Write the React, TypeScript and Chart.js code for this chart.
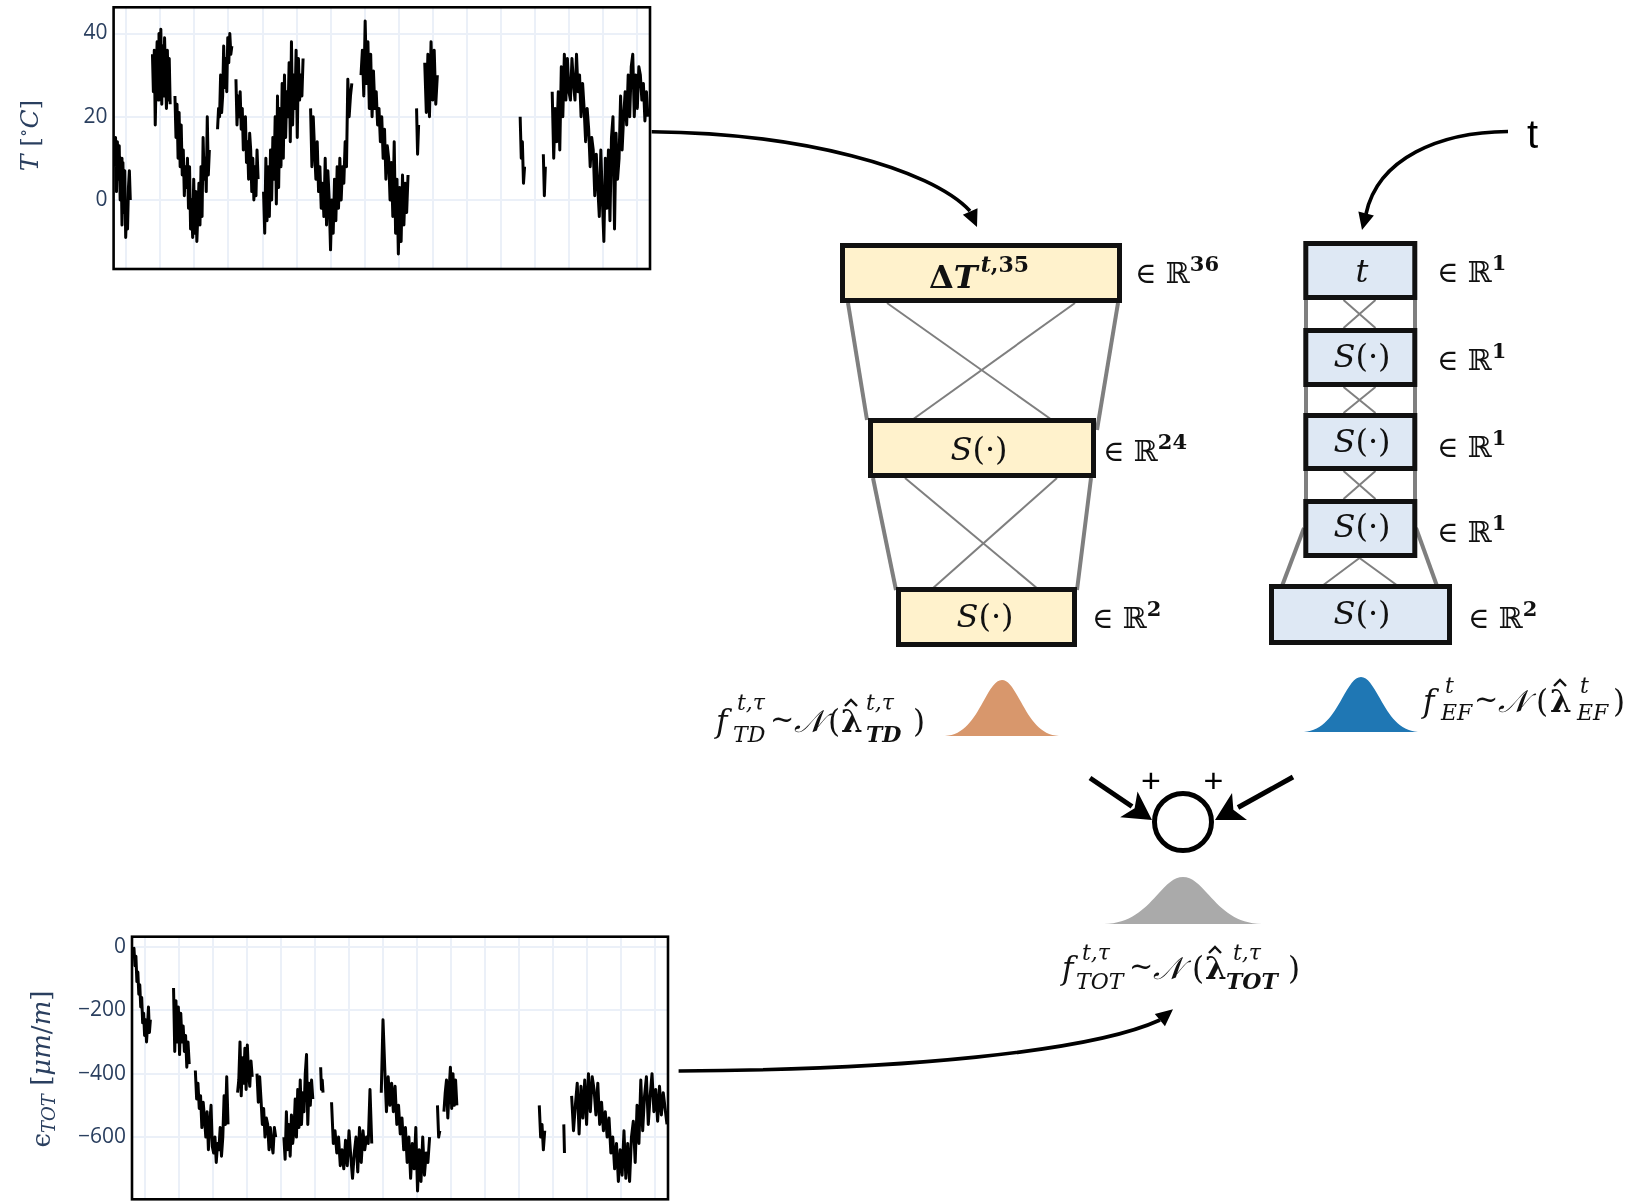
import React, { useEffect, useRef } from "react";
import { Chart, registerables } from "chart.js";

Chart.register(...registerables);

// ---------- shared x grid (vertical gridlines) ----------
const X_GRID = [0, 1, 2, 3, 4, 5, 6, 7, 8, 9, 10, 11, 12, 13, 14, 15];
const X_RANGE = [-0.37, 15.37];

// ---------- top chart: temperature T [°C] ----------
const TEMP_TICKS = [0, 20, 40];
const TEMP_RANGE = [-16.6, 46.3];
const TEMP_SEG_START = [-0.34, 0.77, 1.43, 2.68, 3.22, 4.03, 5.41, 6.89, 8.52, 8.76, 11.56, 12.24, 12.5];
const TEMP_SEG_END = [0.12, 1.29, 2.44, 3.1, 3.87, 5.19, 6.62, 8.27, 8.58, 9.13, 11.69, 12.3, 15.31];
const TEMP_SEG_VALUES: number[][] = [
  [8, 15, 2, 14, 5, 13, 0, 10, -6, 9, -3, 7, -9, -2, -7, 3, 7, 0],
  [35, 26, 36, 18, 30, 38, 24, 40, 28, 41, 23, 37, 25, 39, 30, 22, 36, 24, 34, 23],
  [25, 15, 23, 10, 21, 8, 18, 6, 12, 1, 8, 3, 10, -2, 8, -7, 0, -9, 5, -8, 2, -10, -3, 4, -6, 8, -4, 15, 5, 10, 2, 20, 6, 12],
  [17, 22, 20, 30, 21, 25, 37, 27, 34, 26, 39, 33, 40, 35, 37],
  [29, 18, 25, 20, 26, 17, 22, 12, 18, 20, 9, 14, 5, 16, 12, 2, 10, 0, 8, 1, 12, 5],
  [2, -8, 10, -5, 8, -4, 12, 0, 15, 5, 20, -1, 25, 3, 22, 8, 28, 10, 30, 15, 26, 20, 33, 14, 38, 18, 30, 22, 36, 15, 34, 24, 30, 25, 34],
  [22, 8, 20, 12, 5, 14, 2, 8, -2, 4, -4, 10, -6, 7, 0, -12, 0, -8, 5, -5, 8, -2, 10, 0, 8, 4, 14, 8, 29, 20, 25, 28],
  [30, 36, 25, 43, 28, 38, 22, 35, 20, 31, 22, 26, 18, 22, 14, 20, 10, 17, 5, 13, 10, 0, 9, -4, 14, -8, 5, -13, 3, -10, 6, -6, 4, -3, 6],
  [22, 11, 18],
  [33, 21, 35, 20, 38, 24, 36, 23, 30],
  [20, 10, 14, 4, 8],
  [11, 1, 8],
  [26, 10, 22, 14, 26, 12, 32, 20, 35, 24, 34, 26, 24, 34, 28, 24, 35, 26, 30, 20, 28, 22, 14, 22, 17, 8, 15, 12, 1, 11, 3, -4, 12, 0, -10, 10, -2, 12, -5, 15, 20, -7, 16, 5, 10, 25, 12, 20, 26, 18, 30, 20, 32, 35, 20, 30, 22, 32, 30, 24, 28, 19, 26, 20],
];

// ---------- bottom chart: strain eps_TOT [um/m] ----------
const STRAIN_TICKS = [0, -200, -400, -600];
const STRAIN_RANGE = [-796, 31.5];
const STRAIN_SEG_START = [-0.34, 0.85, 1.49, 2.73, 3.3, 4.09, 5.17, 5.49, 6.95, 8.6, 8.79, 11.59, 12.31, 12.54];
const STRAIN_SEG_END = [0.17, 1.31, 2.45, 3.16, 3.85, 4.94, 5.24, 6.67, 8.37, 8.67, 9.17, 11.75, 12.33, 15.34];
const STRAIN_SEG_VALUES: number[][] = [
  [-15, -5, -60, -30, -110, -80, -150, -120, -190, -160, -240, -210, -280, -230, -300, -250, -190, -270, -230],
  [-130, -330, -170, -300, -190, -340, -210, -300, -250, -330, -280, -380, -300, -370],
  [-390, -480, -430, -510, -470, -570, -490, -540, -600, -520, -640, -560, -500, -630, -650, -600, -680, -620, -640, -570, -660, -600, -470, -560, -410, -560],
  [-460, -420, -300, -470, -350, -430, -320, -450, -310, -400, -440, -360, -410],
  [-400, -490, -410, -480, -560, -510, -600, -540, -560, -640, -570, -620, -650, -570, -600],
  [-600, -670, -520, -640, -560, -660, -530, -620, -580, -480, -600, -450, -570, -420, -560, -460, -520, -400, -340, -560, -430, -500, -420, -480],
  [-380, -450, -420, -460],
  [-490, -620, -580, -650, -600, -690, -640, -700, -610, -690, -580, -660, -730, -650, -600, -710, -570, -680, -580, -640, -600, -620, -450, -620],
  [-460, -230, -380, -520, -410, -500, -430, -520, -440, -560, -500, -590, -540, -640, -570, -680, -600, -730, -620, -700, -570, -770, -640, -740, -600, -720, -650, -680, -600],
  [-500, -600, -580],
  [-520, -460, -420, -540, -450, -380, -510, -400, -500, -420, -500],
  [-500, -600, -560, -640, -580],
  [-560, -650],
  [-470, -580, -500, -430, -590, -440, -540, -420, -560, -400, -520, -410, -450, -530, -430, -560, -490, -580, -520, -600, -540, -650, -600, -700, -620, -740, -640, -720, -580, -730, -620, -740, -600, -550, -680, -500, -620, -420, -580, -470, -410, -560, -470, -400, -520, -450, -550, -440, -530, -460, -510, -560],
];

type Pt = { x: number; y: number | null };

function buildSeries(starts: number[], ends: number[], segs: number[][]): Pt[] {
  const out: Pt[] = [];
  segs.forEach((vals, i) => {
    if (i > 0) out.push({ x: (ends[i - 1] + starts[i]) / 2, y: null });
    const n = vals.length;
    vals.forEach((v, j) => out.push({ x: starts[i] + ((ends[i] - starts[i]) * j) / Math.max(1, n - 1), y: v }));
  });
  return out;
}

const framePlugin = {
  id: "frame",
  afterDraw(chart: any) {
    const { ctx, chartArea: a } = chart;
    ctx.save();
    ctx.strokeStyle = "#000";
    ctx.lineWidth = 2.6;
    ctx.strokeRect(a.left, a.top, a.right - a.left, a.bottom - a.top);
    ctx.restore();
  },
};

const TICK_COLOR = "#2a3f5f";
const GRID_COLOR = "#ebf0f8";
const TICK_FONT = { family: "Open Sans, Noto Sans, sans-serif", size: 21, weight: "normal" };

function makeConfig(
  data: Pt[],
  yRange: number[],
  yTicks: number[],
  axisWidth: number,
  padding: { top: number; bottom: number; left: number; right: number }
): any {
  return {
    type: "line",
    data: {
      datasets: [
        {
          data,
          borderColor: "#000",
          borderWidth: 3,
          borderJoinStyle: "round",
          pointRadius: 0,
          spanGaps: false,
          tension: 0,
        },
      ],
    },
    options: {
      responsive: false,
      animation: false,
      devicePixelRatio: 1,
      layout: { padding },
      plugins: { legend: { display: false }, tooltip: { enabled: false } },
      scales: {
        x: {
          type: "linear",
          min: X_RANGE[0],
          max: X_RANGE[1],
          afterBuildTicks: (s: any) => {
            s.ticks = X_GRID.map((v) => ({ value: v }));
          },
          afterFit: (s: any) => {
            s.height = 0;
            s.paddingLeft = 0;
            s.paddingRight = 0;
            s.paddingTop = 0;
            s.paddingBottom = 0;
          },
          ticks: { display: false },
          grid: { color: GRID_COLOR, lineWidth: 2, drawTicks: false },
          border: { display: false },
        },
        y: {
          type: "linear",
          min: yRange[0],
          max: yRange[1],
          afterBuildTicks: (s: any) => {
            s.ticks = yTicks.map((v) => ({ value: v }));
          },
          afterFit: (s: any) => {
            s.width = axisWidth;
            s.paddingTop = 0;
            s.paddingBottom = 0;
          },
          ticks: {
            color: TICK_COLOR,
            padding: 6,
            font: TICK_FONT,
            callback: (v: number) => String(v).replace("-", "\u2212"),
          },
          grid: { color: GRID_COLOR, lineWidth: 2, drawTicks: false },
          border: { display: false },
        },
      },
    },
    plugins: [framePlugin],
  };
}

// ---------- diagram helpers ----------
function bellPath(cx: number, hw: number, base: number, h: number): string {
  const s = hw / 3;
  return [
    `M ${cx - 3 * s} ${base}`,
    `C ${cx - 2 * s} ${base - 0.02 * h}, ${cx - 1.5 * s} ${base - 0.3 * h}, ${cx - s} ${base - 0.607 * h}`,
    `C ${cx - 0.6 * s} ${base - 0.85 * h}, ${cx - 0.35 * s} ${base - h}, ${cx} ${base - h}`,
    `C ${cx + 0.35 * s} ${base - h}, ${cx + 0.6 * s} ${base - 0.85 * h}, ${cx + s} ${base - 0.607 * h}`,
    `C ${cx + 1.5 * s} ${base - 0.3 * h}, ${cx + 2 * s} ${base - 0.02 * h}, ${cx + 3 * s} ${base}`,
    "Z",
  ].join(" ");
}

function headPath(tip: number[], from: number[], len: number, hw: number, notch = 0): string {
  const dx = tip[0] - from[0];
  const dy = tip[1] - from[1];
  const d = Math.hypot(dx, dy);
  const ux = dx / d;
  const uy = dy / d;
  const bx = tip[0] - ux * len;
  const by = tip[1] - uy * len;
  const px = -uy;
  const py = ux;
  const nx = tip[0] - ux * (len - notch);
  const ny = tip[1] - uy * (len - notch);
  return `M ${tip[0]} ${tip[1]} L ${bx + px * hw} ${by + py * hw} L ${nx} ${ny} L ${bx - px * hw} ${by - py * hw} Z`;
}

const SERIF = "'DejaVu Serif', 'Liberation Serif', serif";
const YELLOW = "#fff2cc";
const BLUE = "#dee8f4";
const BOX_STROKE = "#111";
const LINK = "#7f7f7f";

function SBox({ x, y, w, h, fill, cx, base }: { x: number; y: number; w: number; h: number; fill: string; cx: number; base: number }) {
  return (
    <g>
      <rect x={x + 2.5} y={y + 2.5} width={w - 5} height={h - 5} fill={fill} stroke={BOX_STROKE} strokeWidth={5} />
      <text x={cx} y={base} textAnchor="middle" fontFamily={SERIF} fontSize={32} fill="#111">
        <tspan fontStyle="italic">S</tspan>(·)
      </text>
    </g>
  );
}

function RLabel({ x, base, sup }: { x: number; base: number; sup: string }) {
  return (
    <text x={x} y={base} fontFamily={SERIF} fontSize={29} fill="#111">
      ∈ ℝ
      <tspan fontSize={21} fontWeight="bold" dy={-12}>
        {sup}
      </tspan>
    </text>
  );
}

function Piece({ x, y, size, italic, bold, anchor, children }: any) {
  return (
    <text
      x={x}
      y={y}
      fontFamily={SERIF}
      fontSize={size}
      fontStyle={italic ? "italic" : "normal"}
      fontWeight={bold ? "bold" : "normal"}
      textAnchor={anchor || "start"}
      fill="#111"
    >
      {children}
    </text>
  );
}

function Formula({
  base,
  supBase,
  subBase,
  xs,
  sup,
  sub,
  subBold,
}: {
  base: number;
  supBase: number;
  subBase: number;
  xs: number[];
  sup: string;
  sub: string;
  subBold: boolean;
}) {
  // xs: f, sup1, sub1, ~, N, (, lambda, sup2, sub2, )
  const hx = xs[6] + 10;
  return (
    <g>
      <Piece x={xs[0]} y={base} size={31} italic>f</Piece>
      <Piece x={xs[1]} y={supBase} size={22} italic>{sup}</Piece>
      <Piece x={xs[2]} y={subBase} size={22} italic>{sub}</Piece>
      <Piece x={xs[3]} y={base - 3} size={29}>~</Piece>
      <Piece x={xs[4]} y={base} size={31} italic>𝒩</Piece>
      <Piece x={xs[5]} y={base} size={31}>(</Piece>
      <Piece x={xs[6]} y={base} size={31} bold>λ</Piece>
      <path
        d={`M ${hx - 6} ${base - 26} L ${hx} ${base - 32} L ${hx + 6} ${base - 26}`}
        fill="none"
        stroke="#111"
        strokeWidth={2.4}
      />
      <Piece x={xs[7]} y={supBase} size={22} italic>{sup}</Piece>
      <Piece x={xs[8]} y={subBase} size={22} italic bold={subBold}>{sub}</Piece>
      <Piece x={xs[9]} y={base} size={31}>)</Piece>
    </g>
  );
}

export default function App() {
  const topRef = useRef<HTMLCanvasElement | null>(null);
  const botRef = useRef<HTMLCanvasElement | null>(null);

  useEffect(() => {
    const charts: Chart[] = [];
    if (topRef.current) {
      charts.push(
        new Chart(
          topRef.current,
          makeConfig(
            buildSeries(TEMP_SEG_START, TEMP_SEG_END, TEMP_SEG_VALUES),
            TEMP_RANGE,
            TEMP_TICKS,
            113.6,
            { top: 7.3, bottom: 3, left: 0, right: 2 }
          )
        )
      );
    }
    if (botRef.current) {
      charts.push(
        new Chart(
          botRef.current,
          makeConfig(
            buildSeries(STRAIN_SEG_START, STRAIN_SEG_END, STRAIN_SEG_VALUES),
            STRAIN_RANGE,
            STRAIN_TICKS,
            132,
            { top: 6.7, bottom: 1.7, left: 0, right: 2 }
          )
        )
      );
    }
    return () => charts.forEach((c) => c.destroy());
  }, []);

  return (
    <div style={{ position: "absolute", left: 0, top: 0, width: 1634, height: 1201, background: "#fff", overflow: "hidden" }}>
      <canvas ref={topRef} width={652} height={272} style={{ position: "absolute", left: 0, top: 0 }} />
      <canvas ref={botRef} width={670} height={271} style={{ position: "absolute", left: 0, top: 930 }} />
      <svg width={1634} height={1201} style={{ position: "absolute", left: 0, top: 0 }}>
        {/* axis titles */}
        <text transform="translate(38,135.5) rotate(-90)" textAnchor="middle" fontFamily={SERIF} fontSize={25} fill={TICK_COLOR}>
          <tspan fontStyle="italic">T</tspan> [<tspan fontSize={17} dy={-9}>∘</tspan>
          <tspan dy={9} fontStyle="italic">C</tspan>]
        </text>
        <text transform="translate(50,1069) rotate(-90)" textAnchor="middle" fontFamily={SERIF} fontSize={26} fill={TICK_COLOR}>
          <tspan>ϵ</tspan>
          <tspan fontStyle="italic" fontSize={18} dy={5}>TOT</tspan>
          <tspan dy={-5}> [</tspan>
          <tspan fontStyle="italic">μm</tspan>/<tspan fontStyle="italic">m</tspan>]
        </text>

        {/* curved arrows */}
        <path d="M 651.7 131.7 C 800 133, 930 168, 970 211" fill="none" stroke="#000" strokeWidth={3.6} />
        <path d={headPath([977, 227], [970, 211], 17, 8)} fill="#000" />
        <path d="M 1508 131.5 C 1440 132, 1378 158, 1366 214" fill="none" stroke="#000" strokeWidth={3.6} />
        <path d={headPath([1362, 230], [1366, 214], 17, 8)} fill="#000" />
        <text x={1527} y={148} fontFamily="'Liberation Sans', Arial, sans-serif" fontSize={40} fill="#000">t</text>
        <path d="M 678.6 1071 C 900 1070, 1090 1052, 1160 1020" fill="none" stroke="#000" strokeWidth={3.6} />
        <path d={headPath([1173, 1009.3], [1160, 1020], 17, 8)} fill="#000" />

        {/* left network links */}
        <g stroke={LINK}>
          <line x1={848} y1={303} x2={867} y2={420} strokeWidth={4} />
          <line x1={1118} y1={303} x2={1097} y2={430} strokeWidth={4} />
          <line x1={887} y1={303} x2={1052} y2={420} strokeWidth={2} />
          <line x1={1075} y1={303} x2={912} y2={420} strokeWidth={2} />
          <line x1={873} y1={478} x2={896} y2={590} strokeWidth={4} />
          <line x1={1091} y1={478} x2={1077} y2={590} strokeWidth={4} />
          <line x1={905} y1={478} x2={1038} y2={589} strokeWidth={2} />
          <line x1={1057} y1={478} x2={932} y2={589} strokeWidth={2} />
        </g>
        {/* left network boxes */}
        <rect x={842.5} y={245.5} width={277} height={55} fill={YELLOW} stroke={BOX_STROKE} strokeWidth={5} />
        <text x={929} y={288} fontFamily={SERIF} fontSize={32} fontWeight="bold" fill="#111">
          Δ<tspan fontStyle="italic">T</tspan>
          <tspan fontSize={22} dy={-16} dx={3}>
            <tspan fontStyle="italic">t</tspan>,35
          </tspan>
        </text>
        <SBox x={868} y={418} w={228} h={60} fill={YELLOW} cx={979} base={460} />
        <SBox x={896} y={587} w={181} h={60} fill={YELLOW} cx={985} base={627} />
        <RLabel x={1135} base={283} sup="36" />
        <RLabel x={1103} base={461} sup="24" />
        <RLabel x={1092} base={628} sup="2" />

        {/* right network links */}
        <g stroke={LINK}>
          <line x1={1306} y1={300} x2={1306} y2={500} strokeWidth={4} />
          <line x1={1415} y1={300} x2={1415} y2={500} strokeWidth={4} />
          <line x1={1343.5} y1={300} x2={1375.5} y2={328} strokeWidth={2} />
          <line x1={1375.5} y1={300} x2={1343.5} y2={328} strokeWidth={2} />
          <line x1={1343.5} y1={387} x2={1375.5} y2={413} strokeWidth={2} />
          <line x1={1375.5} y1={387} x2={1343.5} y2={413} strokeWidth={2} />
          <line x1={1343.5} y1={471} x2={1375.5} y2={499} strokeWidth={2} />
          <line x1={1375.5} y1={471} x2={1343.5} y2={499} strokeWidth={2} />
          <line x1={1304} y1={528} x2={1282} y2={586} strokeWidth={4} />
          <line x1={1416} y1={528} x2={1437} y2={586} strokeWidth={4} />
          <line x1={1359.5} y1={558} x2={1322} y2={586} strokeWidth={2} />
          <line x1={1359.5} y1={558} x2={1398} y2={586} strokeWidth={2} />
        </g>
        {/* right network boxes */}
        <rect x={1305.8} y={243.5} width={109} height={54} fill={BLUE} stroke={BOX_STROKE} strokeWidth={5} />
        <text x={1362} y={282} textAnchor="middle" fontFamily={SERIF} fontSize={32} fontStyle="italic" fill="#111">t</text>
        <SBox x={1303.3} y={328} w={114} h={59} fill={BLUE} cx={1362} base={367} />
        <SBox x={1303.3} y={413} w={114} h={58} fill={BLUE} cx={1362} base={452} />
        <SBox x={1303.3} y={499} w={114} h={59} fill={BLUE} cx={1362} base={537} />
        <SBox x={1269} y={584} w={183} h={61} fill={BLUE} cx={1362} base={624} />
        <RLabel x={1437} base={282} sup="1" />
        <RLabel x={1437} base={370} sup="1" />
        <RLabel x={1437} base={457} sup="1" />
        <RLabel x={1437} base={542} sup="1" />
        <RLabel x={1468} base={628} sup="2" />

        {/* distributions */}
        <path d={bellPath(1002, 57, 736, 56)} fill="#d8976c" />
        <path d={bellPath(1361, 57, 732, 55)} fill="#1f77b4" />
        <path d={bellPath(1183, 79, 924, 47)} fill="#aaaaaa" />

        {/* formulas */}
        <Formula
          base={732}
          supBase={710}
          subBase={742}
          xs={[716, 737, 733, 770, 794, 828, 841, 866, 866, 913]}
          sup="t,τ"
          sub="TD"
          subBold
        />
        <Formula
          base={712}
          supBase={693}
          subBase={720}
          xs={[1423, 1445, 1441, 1474, 1498, 1536, 1550, 1580, 1577, 1613]}
          sup="t"
          sub="EF"
          subBold={false}
        />
        <Formula
          base={979}
          supBase={960}
          subBase={989}
          xs={[1062, 1082, 1076, 1129, 1153, 1192, 1205, 1233, 1226, 1288]}
          sup="t,τ"
          sub="TOT"
          subBold
        />

        {/* summation node */}
        <line x1={1090} y1={778} x2={1132} y2={806.5} stroke="#000" strokeWidth={5} />
        <path d={headPath([1152, 820], [1090, 778], 28, 15.5, 7)} fill="#000" />
        <line x1={1293} y1={777} x2={1238} y2={807.5} stroke="#000" strokeWidth={5} />
        <path d={headPath([1215, 820], [1293, 777], 28, 15.5, 7)} fill="#000" />
        <circle cx={1183} cy={822} r={28.5} fill="#fff" stroke="#000" strokeWidth={5} />
        <text x={1151} y={792} textAnchor="middle" fontFamily="'Liberation Sans', Arial, sans-serif" fontSize={34} fill="#000">+</text>
        <text x={1213.5} y={792} textAnchor="middle" fontFamily="'Liberation Sans', Arial, sans-serif" fontSize={34} fill="#000">+</text>
      </svg>
    </div>
  );
}
